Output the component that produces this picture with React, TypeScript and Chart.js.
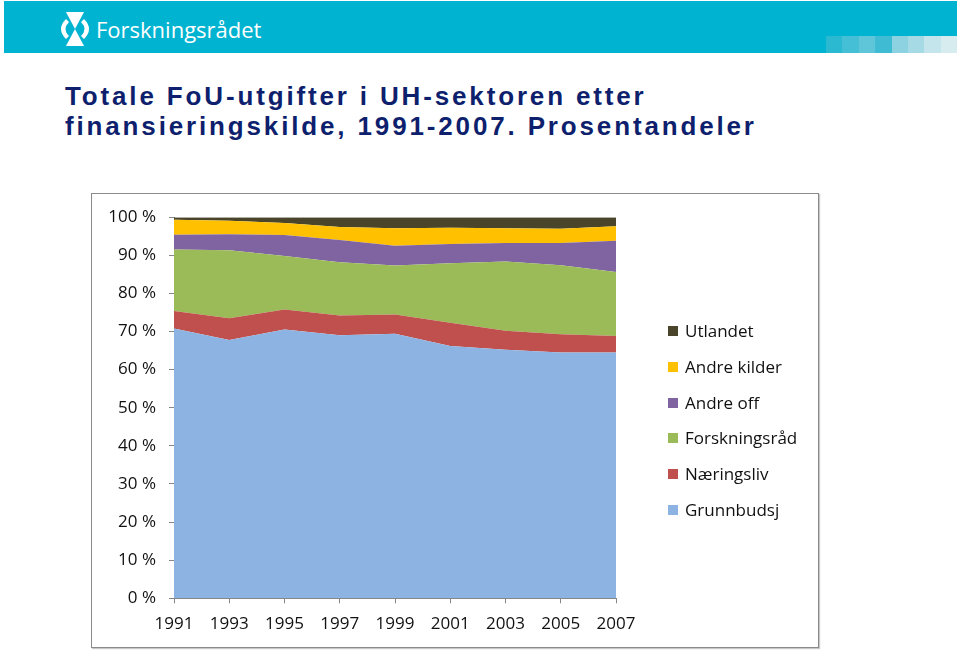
import React, { useEffect, useRef } from "react";
import { Chart, registerables } from "chart.js";

Chart.register(...registerables);

const years = ["1991", "1993", "1995", "1997", "1999", "2001", "2003", "2005", "2007"];
const grunnbudsj = [70.8, 67.8, 70.5, 69.0, 69.4, 66.2, 65.2, 64.5, 64.5];
const naeringsliv = [4.6, 5.7, 5.3, 5.2, 5.1, 6.1, 5.0, 4.8, 4.3];
const forskningsraad = [16.1, 17.8, 14.0, 14.0, 12.8, 15.6, 18.2, 18.1, 16.8];
const andreOff = [3.9, 4.2, 5.5, 5.8, 5.2, 5.1, 4.8, 5.8, 8.2];
const andreKilder = [3.9, 3.6, 3.2, 3.4, 4.6, 4.2, 3.9, 3.8, 3.8];
const utlandet = [0.7, 0.9, 1.5, 2.6, 2.9, 2.8, 2.9, 3.0, 2.4];

const seriesNames = ["Grunnbudsj", "Næringsliv", "Forskningsråd", "Andre off", "Andre kilder", "Utlandet"];
const seriesValues = [grunnbudsj, naeringsliv, forskningsraad, andreOff, andreKilder, utlandet];
const seriesColors = ["#8DB3E2", "#C0504D", "#9BBB59", "#8064A2", "#FFC000", "#4A452A"];

const titleLines = [
  "Totale FoU-utgifter i UH-sektoren etter",
  "finansieringskilde, 1991-2007. Prosentandeler",
];

const bannerBlocks = ["#2bb9d2", "#45bfd5", "#5ec6d8", "#3fbcd3", "#8dd2e0", "#a6dae5", "#c3e5eb", "#d6ecef"];

function ChartCanvas() {
  const ref = useRef<HTMLCanvasElement | null>(null);
  useEffect(() => {
    if (!ref.current) return;
    const axisColor = "#868686";
    const chart = new Chart(ref.current, {
      type: "line",
      data: {
        labels: years,
        datasets: seriesNames.map((name, i) => ({
          label: name,
          data: seriesValues[i],
          backgroundColor: seriesColors[i],
          borderColor: seriesColors[i],
          borderWidth: 0,
          pointRadius: 0,
          tension: 0,
          fill: i === 0 ? "origin" : "-1",
        })),
      },
      options: {
        animation: false,
        responsive: false,
        maintainAspectRatio: false,
        layout: { padding: { top: 22.7, right: 202, bottom: 0, left: 0 } },
        plugins: { legend: { display: false }, tooltip: { enabled: false } },
        scales: {
          x: {
            type: "category",
            offset: false,
            grid: {
              display: true,
              drawOnChartArea: false,
              drawTicks: true,
              tickLength: 5,
              color: axisColor,
            },
            border: { display: true, color: axisColor, width: 1 },
            ticks: {
              font: { family: "'Open Sans'", size: 17 },
              color: "#111",
              padding: 11,
              maxRotation: 0,
              autoSkip: false,
            },
            afterFit: (scale: any) => {
              scale.height = 48.7;
            },
          },
          y: {
            stacked: true,
            min: 0,
            max: 100,
            grid: {
              display: true,
              drawOnChartArea: false,
              drawTicks: true,
              tickLength: 5,
              color: axisColor,
            },
            border: { display: true, color: axisColor, width: 1 },
            ticks: {
              stepSize: 10,
              font: { family: "'Open Sans'", size: 17 },
              color: "#111",
              padding: 13,
              callback: (v: any) => `${v} %`,
            },
            afterFit: (scale: any) => {
              scale.width = 82;
            },
          },
        },
      },
    });
    return () => chart.destroy();
  }, []);
  return (
    <canvas
      ref={ref}
      width={726}
      height={453}
      style={{ position: "absolute", left: 92, top: 194, width: 726, height: 453 }}
    />
  );
}

export default function App() {
  const legendOrder = [5, 4, 3, 2, 1, 0];
  const legendTop = 331;
  const legendStep = 35.8;
  return (
    <div
      style={{
        position: "fixed",
        left: 0,
        top: 0,
        width: 960,
        height: 650,
        background: "#fff",
        overflow: "hidden",
        fontFamily: "'Open Sans', sans-serif",
      }}
    >
      {/* banner */}
      <div style={{ position: "absolute", left: 4, top: 1, width: 953, height: 52, background: "#00B3D0" }} />
      {bannerBlocks.map((c, i) => (
        <div
          key={i}
          style={{ position: "absolute", left: 826 + i * 16.4, top: 36, width: 16.4, height: 17, background: c }}
        />
      ))}
      <svg
        width={38}
        height={36}
        viewBox="0 0 38 36"
        style={{ position: "absolute", left: 56, top: 11 }}
      >
        <polygon points="10,1 28,1 19,18" fill="#fff" />
        <polygon points="19,18 10,35 28,35" fill="#fff" />
        <path d="M10 8 Q0 18 10 28 L13 25 Q6 18 13 11 Z" fill="#fff" />
        <path d="M28 8 Q38 18 28 28 L25 25 Q32 18 25 11 Z" fill="#fff" />
      </svg>
      <div
        style={{
          position: "absolute",
          left: 96,
          top: 14,
          fontSize: 22,
          lineHeight: "30px",
          color: "#fff",
          fontFamily: "'Open Sans', sans-serif",
          whiteSpace: "nowrap",
        }}
      >
        Forskningsrådet
      </div>

      {/* title */}
      <div
        style={{
          position: "absolute",
          left: 65,
          top: 81,
          fontFamily: "'Liberation Sans', Arial, sans-serif",
          fontWeight: "bold",
          fontSize: 26,
          lineHeight: "30px",
          letterSpacing: "2.85px",
          color: "#0E1F6E",
          whiteSpace: "nowrap",
        }}
      >
        {titleLines.map((t, i) => (
          <div key={i}>{t}</div>
        ))}
      </div>

      {/* chart frame */}
      <div
        style={{
          position: "absolute",
          left: 91,
          top: 193,
          width: 726,
          height: 453,
          border: "1px solid #8a8a8a",
          boxShadow: "1px 1px 1px #c8c8c8",
        }}
      />
      <ChartCanvas />

      {/* legend */}
      {legendOrder.map((idx, k) => (
        <div
          key={idx}
          style={{
            position: "absolute",
            left: 668,
            top: legendTop + k * legendStep - 13,
            height: 26,
            display: "flex",
            alignItems: "center",
            whiteSpace: "nowrap",
          }}
        >
          <div style={{ width: 10, height: 10, background: seriesColors[idx], marginRight: 7 }} />
          <span style={{ fontSize: 17, color: "#111", fontFamily: "'Open Sans', sans-serif", lineHeight: "26px" }}>
            {seriesNames[idx]}
          </span>
        </div>
      ))}
    </div>
  );
}
